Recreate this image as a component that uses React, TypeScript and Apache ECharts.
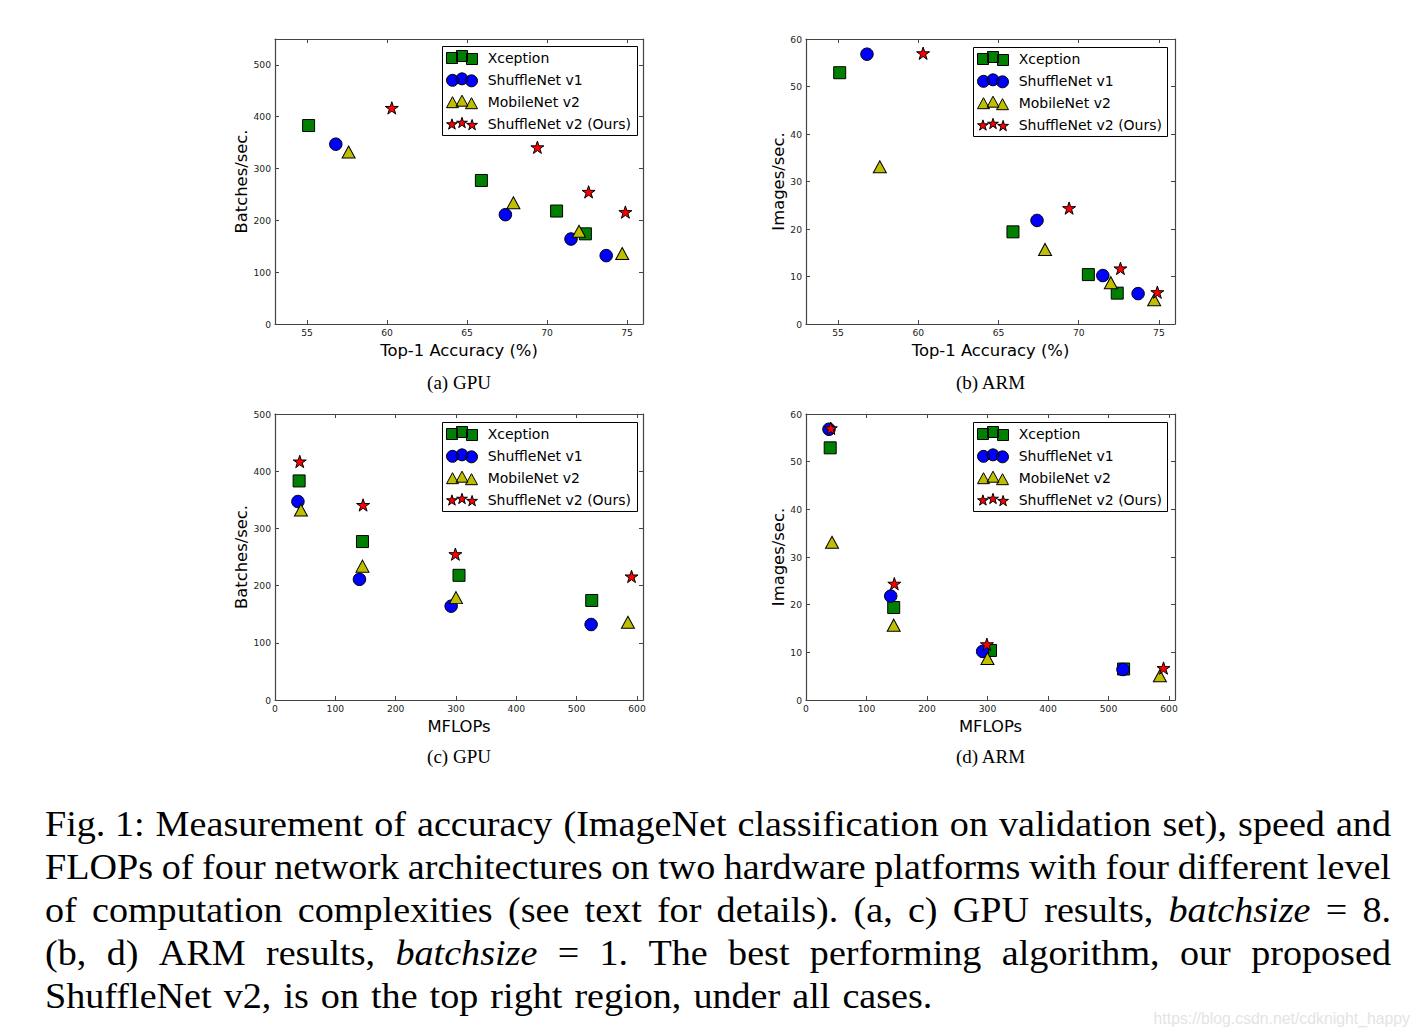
import React, { useEffect, useRef } from 'react';
import * as echarts from 'echarts';

// ---------------- data ----------------
const MODELS = ['Xception', 'ShuffleNet v1', 'MobileNet v2', 'ShuffleNet v2 (Ours)'];

// Top-1 accuracy (%)
const accXception = [55.1, 65.9, 70.6, 72.4];
const accShuffleV1 = [56.8, 67.4, 71.5, 73.7];
const accMobileV2 = [57.6, 67.9, 72.0, 74.7];
const accShuffleV2 = [60.3, 69.4, 72.6, 74.9];

// MFLOPs
const flopsXception = [40, 145, 305, 525];
const flopsShuffleV1 = [38, 140, 292, 524];
const flopsMobileV2 = [43, 145, 300, 585];
const flopsShuffleV2 = [41, 146, 299, 591];

// GPU speed (batches/sec.)
const gpuXception = [383, 277, 218, 174];
const gpuShuffleV1 = [347, 211, 164, 132];
const gpuMobileV2 = [332, 234, 179, 136];
const gpuShuffleV2 = [417, 341, 255, 216];

// ARM speed (images/sec.)
const armXception = [52.9, 19.4, 10.4, 6.5];
const armShuffleV1 = [56.8, 21.8, 10.2, 6.4];
const armMobileV2 = [33.1, 15.7, 8.7, 5.1];
const armShuffleV2 = [57, 24.4, 11.7, 6.7];

// tick labels
const accTicks = [55, 60, 65, 70, 75];
const flopsTicks = [0, 100, 200, 300, 400, 500, 600];
const gpuTicks = [0, 100, 200, 300, 400, 500];
const armTicks = [0, 10, 20, 30, 40, 50, 60];

const panelCaptions = ['(a) GPU', '(b) ARM', '(c) GPU', '(d) ARM'];

type Word = string | { t: string; it: boolean };
const BS = { t: 'batchsize', it: true };
const CAPTION_LINES: Word[][] = [
  ['Fig. 1:', 'Measurement', 'of', 'accuracy', '(ImageNet', 'classification', 'on', 'validation', 'set),', 'speed', 'and'],
  ['FLOPs', 'of', 'four', 'network', 'architectures', 'on', 'two', 'hardware', 'platforms', 'with', 'four', 'different', 'level'],
  ['of', 'computation', 'complexities', '(see', 'text', 'for', 'details).', '(a,', 'c)', 'GPU', 'results,', BS, '=', '8.'],
  ['(b,', 'd)', 'ARM', 'results,', BS, '=', '1.', 'The', 'best', 'performing', 'algorithm,', 'our', 'proposed'],
  ['ShuffleNet', 'v2,', 'is', 'on', 'the', 'top', 'right', 'region,', 'under', 'all', 'cases.'],
];

// ---------------- styles ----------------
const COLORS = ['#008000', '#0000ff', '#bfbf00', '#ff0000'];
const SANS = 'DejaVu Sans';
const SERIF = 'Liberation Serif';
const AXIS_COLOR = '#444';

function starPath(cx: number, cy: number, R: number): string {
  const r = R * 0.381966;
  const pts: string[] = [];
  for (let k = 0; k < 10; k++) {
    const a = ((-90 + k * 36) * Math.PI) / 180;
    const rad = k % 2 === 0 ? R : r;
    pts.push(`${(cx + rad * Math.cos(a)).toFixed(3)} ${(cy + rad * Math.sin(a)).toFixed(3)}`);
  }
  return 'M' + pts.join(' L') + ' Z';
}
function circlePath(cx: number, cy: number, r: number): string {
  return `M${cx - r} ${cy} A${r} ${r} 0 1 0 ${cx + r} ${cy} A${r} ${r} 0 1 0 ${cx - r} ${cy} Z`;
}
function triPath(x: number, y: number, w: number, h: number): string {
  return `M${x + w / 2} ${y} L${x + w} ${y + h} L${x} ${y + h} Z`;
}

const STAR_SYMBOL = 'path://' + starPath(0, 0, 10);
const SYMBOLS = ['rect', 'circle', 'triangle', STAR_SYMBOL];
const SYMBOL_SIZES: any[] = [12, 12.5, [13, 12], 13];

const LEGEND_ICONS = [
  'path://M0 2h11v11h-11z M10 0h11v11h-11z M20 3h11v11h-11z',
  'path://' + circlePath(6, 8, 6) + ' ' + circlePath(15.5, 6.5, 6) + ' ' + circlePath(25, 8.5, 6),
  'path://' + triPath(0, 2, 12, 11) + ' ' + triPath(9.5, 0.5, 12, 11) + ' ' + triPath(19, 3, 12, 11),
  'path://' + starPath(5.6, 8, 5.6) + ' ' + starPath(15.5, 6.5, 5.6) + ' ' + starPath(25.4, 8.6, 5.6),
];

// panel layout
const GRIDS = [
  { left: 275, top: 39, width: 368, height: 285 },
  { left: 806, top: 39, width: 369, height: 285 },
  { left: 275, top: 414, width: 368, height: 286 },
  { left: 806, top: 414, width: 369, height: 286 },
];
const LEGEND_BOXES = [
  { x: 442, y: 46, w: 195, h: 89 },
  { x: 973, y: 47, w: 194, h: 89 },
  { x: 442, y: 422, w: 195, h: 89 },
  { x: 973, y: 422, w: 194, h: 89 },
];

function zip(xs: number[], ys: number[]) {
  return xs.map((x, i) => [x, ys[i]]);
}

function buildCaption(): any[] {
  const canvas = document.createElement('canvas');
  const ctx = canvas.getContext('2d') as CanvasRenderingContext2D;
  const size = 35;
  const sx = 1.09; // widen glyphs towards Computer Modern proportions
  const left = 45;
  const right = 1391;
  const baseline0 = 836;
  const lineStep = 43;
  const els: any[] = [];
  CAPTION_LINES.forEach((line, li) => {
    const words = line.map((w) => (typeof w === 'string' ? { t: w, it: false } : w));
    const widths = words.map((w) => {
      ctx.font = `${w.it ? 'italic ' : ''}${size}px "${SERIF}"`;
      return ctx.measureText(w.t).width * sx;
    });
    const total = widths.reduce((a, b) => a + b, 0);
    const justify = li < CAPTION_LINES.length - 1;
    const gap = justify ? (right - left - total) / (words.length - 1) : 12;
    const y = baseline0 + li * lineStep - 0.3375 * size;
    let x = left;
    words.forEach((w, i) => {
      els.push({
        type: 'text',
        x,
        y,
        scaleX: sx,
        z: 10,
        style: {
          text: w.t,
          fontSize: size,
          fontFamily: SERIF,
          fontStyle: w.it ? 'italic' : 'normal',
          fill: '#000',
          align: 'left',
          verticalAlign: 'middle',
        },
      });
      x += widths[i] + gap;
    });
  });
  return els;
}

function makeXAxis(g: number, min: number, max: number, ticks: number[], name: string, top: boolean) {
  return {
    type: 'value',
    gridIndex: g,
    position: top ? 'top' : 'bottom',
    min,
    max,
    name: top ? '' : name,
    nameLocation: 'middle',
    nameGap: 18.5,
    nameTextStyle: { fontSize: 16.4, fontFamily: SANS, color: '#000' },
    axisLine: { show: true, onZero: false, lineStyle: { color: AXIS_COLOR, width: 1.2 } },
    axisTick: { show: true, inside: true, length: 4, customValues: ticks, lineStyle: { color: AXIS_COLOR, width: 1 } },
    axisLabel: {
      show: !top,
      customValues: ticks,
      margin: 4.2,
      fontSize: 9.2,
      fontFamily: SANS,
      color: '#222',
      formatter: (v: number) => String(v),
    },
    splitLine: { show: false },
  };
}

function makeYAxis(g: number, min: number, max: number, ticks: number[], name: string, gap: number, right: boolean) {
  return {
    type: 'value',
    gridIndex: g,
    position: right ? 'right' : 'left',
    min,
    max,
    name: right ? '' : name,
    nameLocation: 'middle',
    nameGap: gap,
    nameTextStyle: { fontSize: 16.4, fontFamily: SANS, color: '#000' },
    axisLine: { show: true, onZero: false, lineStyle: { color: AXIS_COLOR, width: 1.2 } },
    axisTick: { show: true, inside: true, length: 4, customValues: ticks, lineStyle: { color: AXIS_COLOR, width: 1 } },
    axisLabel: {
      show: !right,
      customValues: ticks,
      margin: 4,
      fontSize: 9.2,
      fontFamily: SANS,
      color: '#222',
      formatter: (v: number) => String(v),
    },
    splitLine: { show: false },
  };
}

function buildOption(): any {
  const accs = [accXception, accShuffleV1, accMobileV2, accShuffleV2];
  const flops = [flopsXception, flopsShuffleV1, flopsMobileV2, flopsShuffleV2];
  const gpus = [gpuXception, gpuShuffleV1, gpuMobileV2, gpuShuffleV2];
  const arms = [armXception, armShuffleV1, armMobileV2, armShuffleV2];
  const panels = [
    { xs: accs, ys: gpus },
    { xs: accs, ys: arms },
    { xs: flops, ys: gpus },
    { xs: flops, ys: arms },
  ];

  const series: any[] = [];
  panels.forEach((p, g) => {
    MODELS.forEach((name, m) => {
      series.push({
        type: 'scatter',
        name,
        xAxisIndex: g,
        yAxisIndex: g,
        data: zip(p.xs[m], p.ys[m]),
        symbol: SYMBOLS[m],
        symbolSize: SYMBOL_SIZES[m],
        symbolKeepAspect: m === 3,
        itemStyle: { color: COLORS[m], borderColor: '#000', borderWidth: 1, opacity: 1 },
        emphasis: { disabled: true },
        z: 2,
      });
    });
  });

  const xAxis = [
    makeXAxis(0, 53, 76, accTicks, 'Top-1 Accuracy (%)', false),
    makeXAxis(1, 53, 76, accTicks, 'Top-1 Accuracy (%)', false),
    makeXAxis(2, 0, 610, flopsTicks, 'MFLOPs', false),
    makeXAxis(3, 0, 610, flopsTicks, 'MFLOPs', false),
    makeXAxis(0, 53, 76, accTicks, '', true),
    makeXAxis(1, 53, 76, accTicks, '', true),
    makeXAxis(2, 0, 610, flopsTicks, '', true),
    makeXAxis(3, 0, 610, flopsTicks, '', true),
  ];
  const yAxis = [
    makeYAxis(0, 0, 550, gpuTicks, 'Batches/sec.', 25.8, false),
    makeYAxis(1, 0, 60, armTicks, 'Images/sec.', 18.8, false),
    makeYAxis(2, 0, 500, gpuTicks, 'Batches/sec.', 25.8, false),
    makeYAxis(3, 0, 60, armTicks, 'Images/sec.', 18.8, false),
    makeYAxis(0, 0, 550, gpuTicks, '', 0, true),
    makeYAxis(1, 0, 60, armTicks, '', 0, true),
    makeYAxis(2, 0, 500, gpuTicks, '', 0, true),
    makeYAxis(3, 0, 60, armTicks, '', 0, true),
  ];

  const legend = LEGEND_BOXES.map((b) => ({
    show: true,
    orient: 'vertical',
    left: b.x + 4,
    top: b.y + 4,
    padding: 0,
    itemWidth: 31,
    itemHeight: 14,
    itemGap: 7.35,
    selectedMode: false,
    symbolKeepAspect: true,
    data: MODELS.map((name, i) => ({ name, icon: LEGEND_ICONS[i] })),
    itemStyle: { borderColor: '#000', borderWidth: 1 },
    textStyle: { fontSize: 14, fontFamily: SANS, color: '#000', padding: [0, 0, 0, 5.2] },
  }));

  const graphics: any[] = [];
  LEGEND_BOXES.forEach((b) => {
    graphics.push({
      type: 'rect',
      z: 3,
      shape: { x: b.x + 0.5, y: b.y + 0.5, width: b.w, height: b.h },
      style: { fill: '#fff', stroke: '#000', lineWidth: 1 },
    });
  });
  panelCaptions.forEach((t, i) => {
    const gr = GRIDS[i];
    graphics.push({
      type: 'text',
      x: gr.left + gr.width / 2,
      y: i < 2 ? 382.8 : 756.8,
      z: 10,
      style: { text: t, fontSize: 19, fontFamily: SERIF, fill: '#000', align: 'center', verticalAlign: 'middle' },
    });
  });
  graphics.push(...buildCaption());
  graphics.push({
    type: 'text',
    x: 1410,
    y: 1018,
    z: 10,
    style: {
      text: 'https://blog.csdn.net/cdknight_happy',
      fontSize: 15.8,
      fontFamily: 'Liberation Sans',
      fill: '#e4e4e4',
      align: 'right',
      verticalAlign: 'middle',
    },
  });

  return {
    animation: false,
    backgroundColor: '#ffffff',
    grid: GRIDS.map((g) => ({ ...g, show: false, containLabel: false, outerBoundsMode: 'none' })),
    xAxis,
    yAxis,
    legend,
    series,
    graphic: { elements: graphics },
  };
}

export default function App() {
  const ref = useRef<HTMLDivElement>(null);
  useEffect(() => {
    if (!ref.current) return;
    const chart = echarts.init(ref.current, undefined, { renderer: 'svg' });
    chart.setOption(buildOption());
    return () => chart.dispose();
  }, []);
  return (
    <div
      ref={ref}
      style={{ position: 'absolute', left: 0, top: 0, width: 1419, height: 1036, background: '#fff' }}
    />
  );
}
